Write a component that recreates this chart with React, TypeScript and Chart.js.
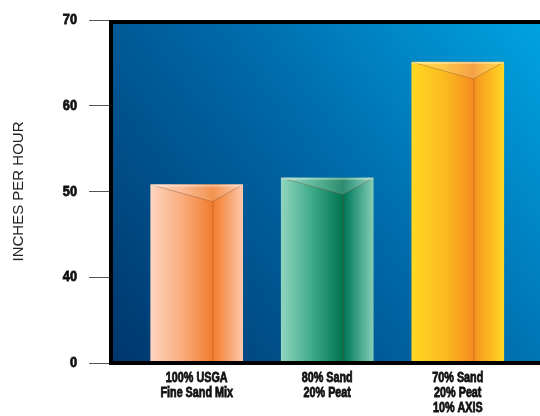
import React, { useEffect, useRef } from "react";
import { Chart, registerables } from "chart.js";

Chart.register(...registerables);

// Mix categories, infiltration rates (inches per hour) and axis ticks
const categories: string[][] = [
  ["100% USGA", "Fine Sand Mix"],
  ["80% Sand", "20% Peat"],
  ["70% Sand", "20% Peat", "10% AXIS"],
];
const positions: number[] = [1, 2, 3];
const rates: number[] = [50.8, 51.6, 65.1];
const yTicks: number[] = [30, 40, 50, 60, 70];
// the lowest tick sits at the axis break and is labelled as zero
const yTickLabels: string[] = ["0", "40", "50", "60", "70"];

// Horizontal shading for each bar: [offset, colour]
const barShades: [number, string][][] = [
  [[0, "#fed5bf"], [0.35, "#f9ab7c"], [0.67, "#f07d2c"], [0.72, "#f3853a"], [1, "#fdc7aa"]],
  [[0, "#90d4be"], [0.35, "#3aa886"], [0.67, "#00734f"], [0.74, "#14876a"], [1, "#84cdb5"]],
  [[0, "#ffd722"], [0.35, "#fcbb21"], [0.67, "#f58c1e"], [0.74, "#f8a21f"], [1, "#ffd624"]],
];

const BAR_WIDTH = 92;
const LABEL_FONT = "bold 14px 'Liberation Sans', Arial, sans-serif";
const TICK_FONT = "bold 15px 'Liberation Sans', Arial, sans-serif";

// draws text squeezed horizontally to mimic a condensed heavy face
function condensedText(ctx: CanvasRenderingContext2D, text: string, x: number, y: number, squeeze: number) {
  ctx.save();
  ctx.translate(x, y);
  ctx.scale(squeeze, 1);
  ctx.fillText(text, 0, 0);
  ctx.strokeText(text, 0, 0);
  ctx.restore();
}

const panelPlugin = {
  id: "panel",
  beforeDatasetsDraw(chart: any) {
    const { ctx, chartArea: a } = chart;
    const g = ctx.createLinearGradient(a.left, a.bottom, a.right, a.top);
    g.addColorStop(0, "#00366c");
    g.addColorStop(0.5, "#0067a6");
    g.addColorStop(1, "#00a6e6");
    ctx.save();
    ctx.fillStyle = g;
    ctx.fillRect(a.left, a.top, a.right - a.left, a.bottom - a.top);
    ctx.restore();
  },
  afterDatasetsDraw(chart: any) {
    const { ctx, chartArea: a } = chart;
    const meta = chart.getDatasetMeta(0);
    ctx.save();
    meta.data.forEach((bar: any) => {
      const left = bar.x - bar.width / 2;
      const right = bar.x + bar.width / 2;
      const top = bar.y;
      const bottom = Math.min(bar.base, a.bottom);
      const apexX = left + bar.width * 0.67;
      const apexY = top + 17;
      // lighter top face
      ctx.beginPath();
      ctx.moveTo(left, top);
      ctx.lineTo(right, top);
      ctx.lineTo(apexX, apexY);
      ctx.closePath();
      ctx.fillStyle = "rgba(255,255,255,0.18)";
      ctx.fill();
      // facet edges
      ctx.beginPath();
      ctx.moveTo(left, top);
      ctx.lineTo(apexX, apexY);
      ctx.lineTo(right, top);
      ctx.moveTo(apexX + 0.5, apexY);
      ctx.lineTo(apexX + 0.5, bottom);
      ctx.strokeStyle = "rgba(120,70,40,0.35)";
      ctx.lineWidth = 1;
      ctx.stroke();
      ctx.strokeStyle = "rgba(255,255,255,0.35)";
      ctx.strokeRect(left + 0.5, top + 0.5, bar.width - 1, 1);
    });
    // heavy frame round the plot
    ctx.strokeStyle = "#000";
    ctx.lineWidth = 4;
    ctx.strokeRect(a.left, a.top + 2, a.right - a.left, a.bottom - a.top - 2);
    ctx.restore();
  },
  afterDraw(chart: any) {
    const { ctx, chartArea: a } = chart;
    const xs = chart.scales.x;
    const ys = chart.scales.y;
    ctx.save();
    ctx.fillStyle = "#111";
    ctx.strokeStyle = "#111";
    ctx.lineWidth = 0.8;
    ctx.textBaseline = "middle";
    // category labels under each bar
    ctx.font = LABEL_FONT;
    ctx.textAlign = "center";
    positions.forEach((p, i) => {
      const cx = xs.getPixelForValue(p);
      categories[i].forEach((line, j) => {
        condensedText(ctx, line, cx, a.bottom + 15 + j * 15, 0.77);
      });
    });
    // value labels beside the y ticks
    ctx.font = TICK_FONT;
    ctx.textAlign = "right";
    yTicks.forEach((v, i) => {
      condensedText(ctx, yTickLabels[i], 77, ys.getPixelForValue(v), 0.85);
    });
    ctx.restore();
  },
};

export default function App() {
  const canvasRef = useRef<HTMLCanvasElement>(null);

  useEffect(() => {
    if (!canvasRef.current) return;
    const chart = new Chart(canvasRef.current, {
      type: "bar",
      data: {
        datasets: [
          {
            data: positions.map((x, i) => ({ x, y: rates[i] })),
            barThickness: BAR_WIDTH,
            borderWidth: 0,
            backgroundColor: (c: any) => {
              const i = c.dataIndex ?? 0;
              const fallback = barShades[i % 3][2][1];
              const xs = c.chart.scales?.x;
              if (!xs || c.type !== "data") return fallback;
              const cx = xs.getPixelForValue(positions[i]);
              if (!Number.isFinite(cx)) return fallback;
              const g = c.chart.ctx.createLinearGradient(cx - BAR_WIDTH / 2, 0, cx + BAR_WIDTH / 2, 0);
              barShades[i].forEach(([o, col]) => g.addColorStop(o, col));
              return g;
            },
          },
        ],
      },
      options: {
        responsive: false,
        animation: false,
        devicePixelRatio: 1,
        layout: { padding: { top: 20, right: 0, left: 0, bottom: 0 } },
        plugins: { legend: { display: false }, tooltip: { enabled: false } },
        scales: {
          x: {
            type: "linear",
            offset: false,
            min: 0.3435,
            max: 3.783,
            grid: { display: false, drawTicks: false, offset: false },
            border: { display: false },
            afterBuildTicks: (s: any) => {
              s.ticks = positions.map((v) => ({ value: v }));
            },
            afterFit: (s: any) => {
              s.height = 53;
            },
            ticks: { display: false },
          },
          y: {
            min: 30,
            max: 70,
            grid: {
              drawOnChartArea: false,
              drawTicks: true,
              tickLength: 22,
              color: "#555",
              lineWidth: 1,
            },
            border: { display: false },
            afterBuildTicks: (s: any) => {
              s.ticks = yTicks.map((v) => ({ value: v }));
            },
            afterFit: (s: any) => {
              s.width = 111;
            },
            ticks: { display: false },
            title: {
              display: true,
              text: "INCHES PER HOUR",
              color: "#222",
              padding: { top: 10, bottom: 0 },
              font: { family: "'Liberation Sans', Arial, sans-serif", size: 15, weight: "normal" },
            },
          },
        },
      },
      plugins: [panelPlugin],
    } as any);
    return () => chart.destroy();
  }, []);

  return (
    <div
      style={{
        position: "absolute",
        left: 0,
        top: 0,
        width: 540,
        height: 416,
        overflow: "hidden",
        background: "#fff",
      }}
    >
      <canvas ref={canvasRef} width={560} height={416} />
    </div>
  );
}
